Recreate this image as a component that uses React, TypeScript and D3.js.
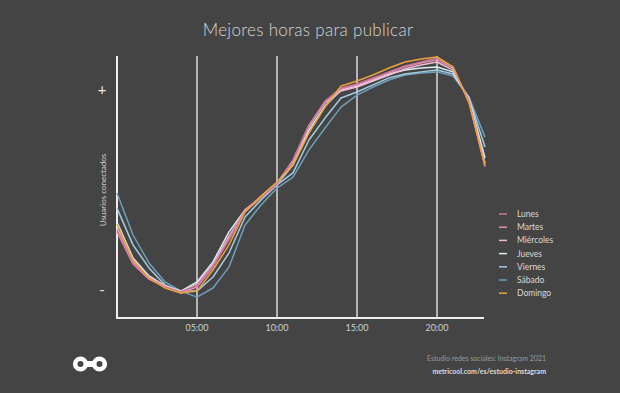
import React from "react";
import * as d3 from "d3";

const hours = d3.range(0, 24);
const days = ["Lunes", "Martes", "Miércoles", "Jueves", "Viernes", "Sábado", "Domingo"];
const colors = ["#c7769a", "#e690b4", "#efbcd2", "#d9eef7", "#a3cde2", "#6f9fba", "#e9a33c"];

const lunes = [33.7,21.1,15.3,11.9,10.0,12.6,19.9,29.9,40.6,46.0,51.3,60.5,73.9,83.1,88.1,89.7,92.0,94.3,96.6,98.1,99.6,96.2,82.8,57.9];
const martes = [33.0,20.7,14.9,11.9,9.6,11.9,19.5,30.7,41.4,46.4,51.7,60.5,73.9,82.8,87.7,89.3,91.6,93.9,96.2,97.7,98.9,95.8,83.1,58.2];
const miercoles = [34.5,21.5,15.7,12.3,10.0,13.0,20.7,31.4,41.0,46.4,51.7,59.8,73.2,82.4,87.0,88.5,90.8,93.1,95.4,96.9,98.1,95.0,83.5,59.4];
const jueves = [36.8,23.0,16.1,12.3,10.3,13.8,21.5,33.0,41.4,46.0,51.3,58.6,72.0,81.2,87.4,88.9,91.2,93.5,95.0,95.8,96.2,94.3,83.9,61.3];
const viernes = [42.1,28.0,19.2,12.6,10.3,10.3,15.7,24.9,38.7,45.2,51.0,55.6,68.2,76.6,84.3,86.6,89.3,92.0,93.5,94.3,95.0,93.5,84.3,65.5];
const sabado = [47.9,31.8,21.1,13.8,10.3,8.0,11.5,19.5,35.6,43.3,49.8,54.0,64.4,72.8,80.8,85.4,88.5,91.2,93.1,93.9,94.3,92.7,84.7,69.3];
const domingo = [36.0,22.2,15.3,11.5,9.6,10.3,18.4,28.0,40.6,46.7,52.1,58.6,70.9,80.8,88.9,90.8,93.1,95.8,98.1,99.2,100,96.2,82.4,58.6];
const series = [lunes, martes, miercoles, jueves, viernes, sabado, domingo];

const xTicks = [5, 10, 15, 20];
const xTickLabels = ["05:00", "10:00", "15:00", "20:00"];
const yTicks = [87.4, 10.7];
const yTickLabels = ["+", "-"];

const W = 620, H = 393;
const FONT = "Lato, 'Open Sans', sans-serif";

export default function App() {
  const x = d3.scaleLinear().domain([0, 23]).range([117, 485]);
  const y = d3.scaleLinear().domain([0, 100]).range([318, 57]);
  const line = d3.line<number>().x((_, i) => x(hours[i])).y((d) => y(d));
  const drawOrder = [5, 4, 3, 2, 1, 0, 6];
  return (
    <svg width={W} height={H} style={{ position: "absolute", left: 0, top: 0 }}>
      <rect width={W} height={H} fill="#444444" />
      <text x={308} y={36} textAnchor="middle" fill="#d6d6d6" fontSize={17} fontWeight={300} fontFamily={FONT} letterSpacing={0.3}>
        Mejores horas para publicar
      </text>
      {xTicks.map((t) => (
        <line key={t} x1={x(t)} x2={x(t)} y1={56} y2={318} stroke="#b4b4b4" strokeWidth={2} />
      ))}
      <line x1={117} x2={117} y1={56} y2={319} stroke="#eeeeee" strokeWidth={2} />
      <line x1={116} x2={484} y1={318} y2={318} stroke="#eeeeee" strokeWidth={2} />
      {xTicks.map((t, i) => (
        <text key={t} x={x(t)} y={331} textAnchor="middle" fill="#cfcfcf" fontSize={9} fontFamily={FONT}>
          {xTickLabels[i]}
        </text>
      ))}
      {yTicks.map((t, i) => (
        <text key={i} x={102} y={y(t) + 5} textAnchor="middle" fill="#e6e6e6" fontSize={15} fontFamily={FONT}>
          {yTickLabels[i]}
        </text>
      ))}
      <text transform="translate(106,190) rotate(-90)" textAnchor="middle" fill="#cfcfcf" fontSize={8} fontFamily={FONT}>
        Usuarios conectados
      </text>
      {drawOrder.map((k) => (
        <path key={k} d={line(series[k]) || ""} fill="none" stroke={colors[k]} strokeWidth={1.5} strokeLinejoin="round" />
      ))}
      {days.map((d, i) => (
        <g key={d} transform={`translate(0,${214 + i * 13.2})`}>
          <line x1={499} x2={507} y1={0} y2={0} stroke={colors[i]} strokeWidth={1.5} />
          <text x={517} y={3} fill="#d9d9d9" fontSize={8.5} fontFamily={FONT}>{d}</text>
        </g>
      ))}
      <text x={546} y={361} textAnchor="end" fill="#9a9a9a" fontSize={7} fontFamily={FONT}>
        Estudio redes sociales: Instagram 2021
      </text>
      <text x={546} y={374} textAnchor="end" fill="#dddddd" fontSize={7} fontWeight={700} fontFamily={FONT}>
        metricool.com/es/estudio-instagram
      </text>
      <rect x={84} y={361} width={12} height={6} fill="#ffffff" />
      <g fill="none" stroke="#ffffff" strokeWidth={4.6}>
        <circle cx={80.5} cy={364} r={5.3} />
        <circle cx={99.5} cy={364} r={5.3} />
      </g>
    </svg>
  );
}
